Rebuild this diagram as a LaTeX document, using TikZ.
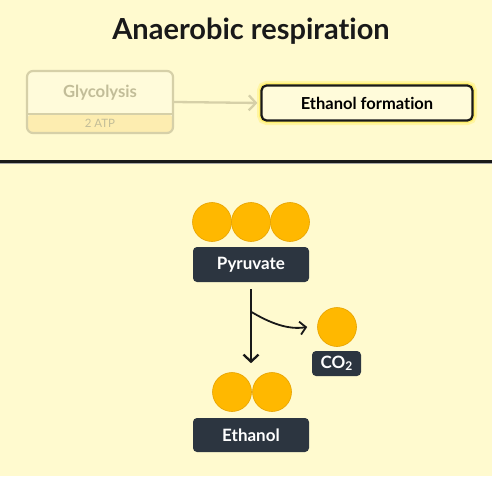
\documentclass[tikz,border=0pt]{standalone}
\usepackage{fontspec}
\setmainfont{Lato}[Ligatures={NoCommon}]
\usetikzlibrary{arrows.meta}
\definecolor{bg}{HTML}{FFFACF}
\definecolor{ball}{HTML}{FFB800}
\definecolor{ballline}{HTML}{E6A200}
\definecolor{dark}{HTML}{2C3540}
\definecolor{fadeline}{HTML}{D6D0A8}
\definecolor{fadetext}{HTML}{C2BD98}
\definecolor{fadetop}{HTML}{FFFBDA}
\definecolor{fadebot}{HTML}{FDEDB0}
\definecolor{glow}{HTML}{FFEE60}
\tikzset{
  ballnode/.style={circle, fill=ball, draw=ballline, line width=0.6pt, minimum size=39pt, inner sep=0pt},
  tag/.style={fill=dark, rounded corners=4pt, text=white, font=\fontsize{17}{20}\selectfont\bfseries, inner sep=0pt},
  conn/.style={line width=2.3pt, draw=black!90, -{Straight Barb[length=7pt, width=15pt, line width=2.3pt]}},
}
\begin{document}
\begin{tikzpicture}[x=1pt, y=-1pt]
\useasboundingbox (0,0) rectangle (492,476);
\fill[bg] (0,0) rectangle (492,476);
% title
\node[anchor=base, font=\fontsize{29}{34}\selectfont\bfseries, text=black!90] (title) at (251,39.5) {Anaerobic respiration};
% glycolysis (faded)
\node[draw=fadeline, line width=2.2pt, rounded corners=6pt, fill=fadetop, minimum width=146pt, minimum height=62pt, inner sep=0pt,
  path picture={\fill[fadebot] ([yshift=19pt]path picture bounding box.south west) rectangle (path picture bounding box.south east);
                \draw[fadeline, line width=2.2pt] ([yshift=19pt]path picture bounding box.south west) -- ([yshift=19pt]path picture bounding box.south east);}]
  (glyco) at (100,102) {};
\node[text=fadetext, font=\fontsize{16.7}{19}\selectfont\bfseries] (glycotext) at (100,93) {Glycolysis};
\node[text=fadetext, font=\fontsize{11.5}{13}\selectfont] (atp) at (100,123.5) {2 ATP};
% ethanol formation
\node[draw=black!90, line width=2.2pt, rounded corners=5pt, fill=fadetop, minimum width=211pt, minimum height=35pt, inner sep=0pt,
  font=\fontsize{16.5}{19}\selectfont\bfseries,
  preaction={draw=glow, line width=9pt, opacity=0.4, rounded corners=7pt},
  preaction={draw=glow, line width=5pt, opacity=0.8, rounded corners=6pt}]
  (ethform) at (367,103) {Ethanol formation};
\draw[line width=2.3pt, draw=fadeline, -{Straight Barb[length=7pt, width=15pt, line width=2.3pt]}, shorten >=3pt]
  (glyco.east) -- (ethform.west);
% divider
\draw[line width=3.4pt, black!90] (0,161.5) -- (492,161.5);
\draw[line width=0.8pt, black!35] (0,163.6) -- (492,163.6);
% pyruvate
\node[ballnode] (p1) at (212,222) {};
\node[ballnode] (p2) at (251,222) {};
\node[ballnode] (p3) at (290,222) {};
\node[tag, minimum width=116pt, minimum height=35pt] (pyr) at (251,264.5) {Pyruvate};
% ethanol
\node[ballnode] (e1) at (232,392) {};
\node[ballnode] (e2) at (272,392) {};
\node[tag, minimum width=116pt, minimum height=34pt] (eth) at (251,435) {Ethanol};
% CO2
\node[ballnode] (c1) at (337,327) {};
\node[tag, minimum width=49pt, minimum height=25pt, font=\fontsize{17}{19}\selectfont\bfseries] (co2) at (336.5,363.5) {CO\raisebox{-0.28ex}{\fontsize{12}{13}\selectfont 2}};
% arrows
\draw[conn, shorten <=7pt, shorten >=9pt] (pyr.south) -- (pyr.south |- e1.north);
\coordinate (branch) at (251.5,312);
\draw[conn, line width=1.8pt, -{Straight Barb[length=6pt, width=13pt, line width=1.8pt]}]
  (branch) .. controls (270,323) and (288,330) .. ([xshift=-10pt]c1.west);
\end{tikzpicture}
\end{document}
